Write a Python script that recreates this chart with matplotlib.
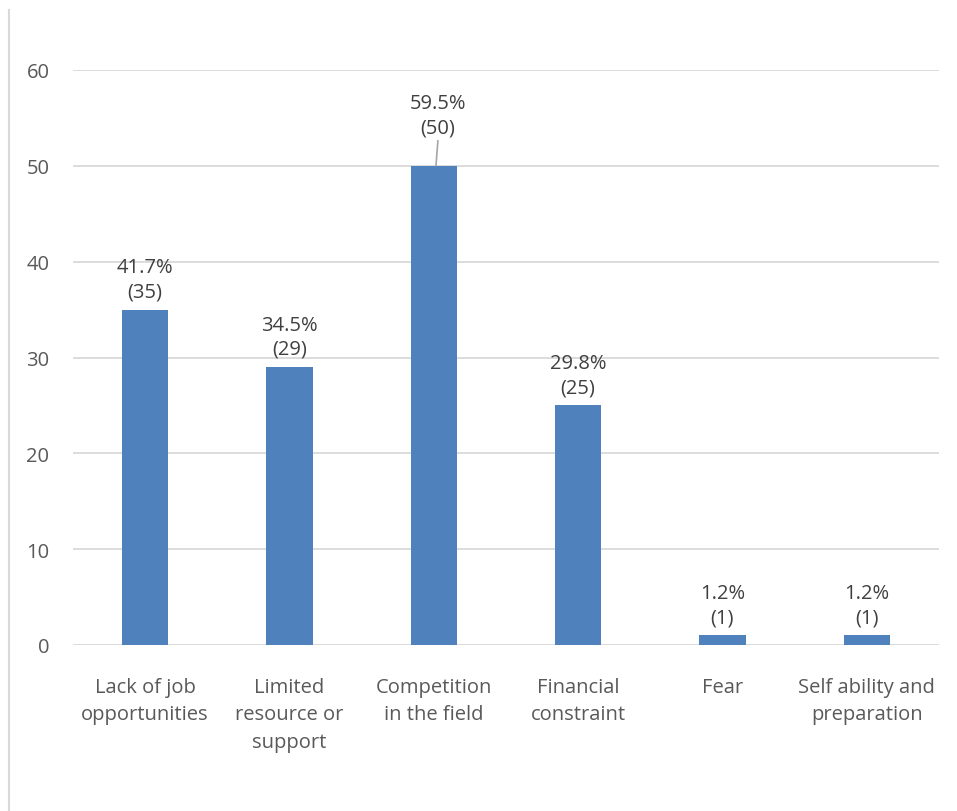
import matplotlib
matplotlib.use("Agg")
import matplotlib.pyplot as plt
from matplotlib.lines import Line2D

categories = ["Lack of job\nopportunities", "Limited\nresource or\nsupport",
              "Competition\nin the field", "Financial\nconstraint", "Fear",
              "Self ability and\npreparation"]
counts = [35, 29, 50, 25, 1, 1]
percents = ["41.7%", "34.5%", "59.5%", "29.8%", "1.2%", "1.2%"]
yticks = [0, 10, 20, 30, 40, 50, 60]

plt.rcParams['font.family'] = ['Open Sans', 'DejaVu Sans']
FS = 14.5

fig = plt.figure(figsize=(9.57, 8.12), dpi=100)
ax = fig.add_axes([73/957, 1 - 646/812, 866/957, 575/812])

x = list(range(len(categories)))
ax.bar(x, counts, width=0.32, color="#4f81bd", zorder=3)
ax.set_xlim(-0.5, len(categories) - 0.5)
ax.set_ylim(0, 60)
ax.set_yticks(yticks)
ax.set_yticklabels([str(t) for t in yticks], fontsize=FS, color="#595959")
ax.set_xticks(x)
ax.set_xticklabels(categories, fontsize=FS, color="#595959", linespacing=1.5)
ax.tick_params(axis="both", length=0)
ax.tick_params(axis="x", pad=23)
ax.tick_params(axis="y", pad=17)
ax.grid(axis="y", color="#d9d9d9", linewidth=1.3, zorder=0)
for s in ax.spines.values():
    s.set_visible(False)

for i, (c, p) in enumerate(zip(counts, percents)):
    if i == 2:
        ax.text(i + 0.03, c + 3.0, f"{p}\n({c})", ha="center", va="bottom",
                fontsize=FS, color="#404040", linespacing=1.25)
        ax.plot([i + 0.015, i + 0.028], [c + 0.05, c + 2.6], color="#a6a6a6",
                linewidth=1.2, zorder=4)
    else:
        ax.annotate(f"{p}\n({c})", xy=(i, c), xytext=(0, 6),
                    textcoords="offset points", ha="center", va="bottom",
                    fontsize=FS, color="#404040", linespacing=1.25)

fig.add_artist(Line2D([9/957, 9/957], [0, 1 - 11/812], color="#d9d9d9",
                      linewidth=1.5, transform=fig.transFigure))

fig.savefig("out.png", dpi=100, facecolor="white")
